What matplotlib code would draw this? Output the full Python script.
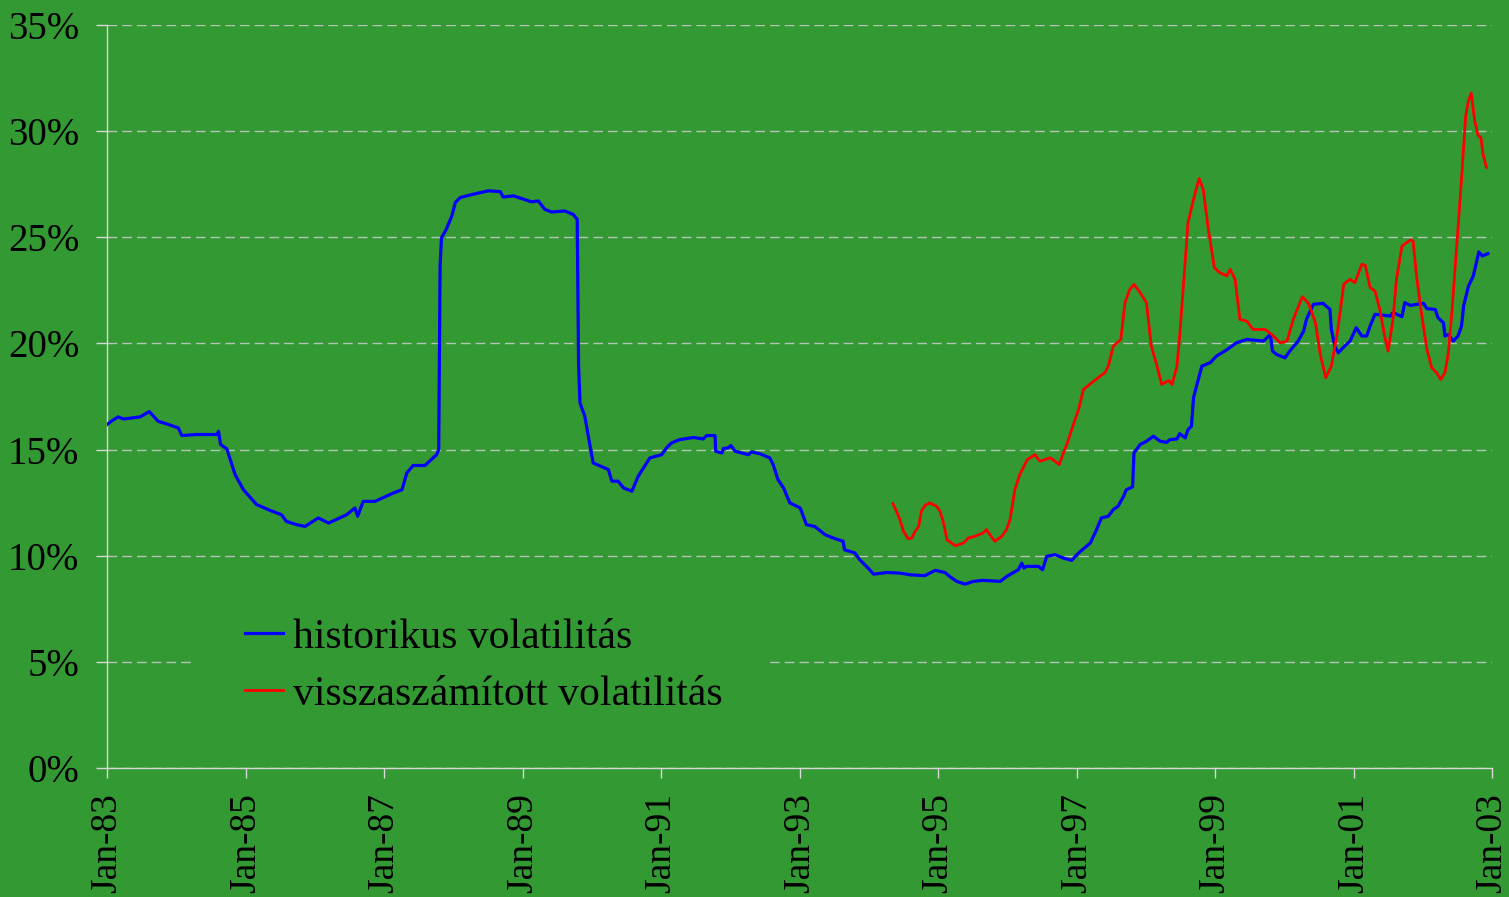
import matplotlib
matplotlib.use("Agg")
import matplotlib.pyplot as plt
from matplotlib.patches import Rectangle
from matplotlib.ticker import FixedLocator, FuncFormatter

# historikus volatilitás (decimal year, %)
hist_t = [1983.00, 1983.06, 1983.16, 1983.24, 1983.48, 1983.61, 1983.74, 1983.86, 1984.03, 1984.08,
          1984.29, 1984.59, 1984.61, 1984.64, 1984.73, 1984.85, 1984.97, 1985.16, 1985.35, 1985.52,
          1985.59, 1985.74, 1985.86, 1986.05, 1986.20, 1986.46, 1986.58, 1986.62, 1986.70, 1986.87,
          1987.14, 1987.26, 1987.33, 1987.42, 1987.59, 1987.76, 1987.79, 1987.81, 1987.83, 1987.90,
          1987.98, 1988.03, 1988.10, 1988.29, 1988.51, 1988.68, 1988.72, 1988.87, 1989.13, 1989.23,
          1989.32, 1989.42, 1989.61, 1989.73, 1989.79, 1989.81, 1989.83, 1989.90, 1989.95, 1990.02,
          1990.24, 1990.29, 1990.38, 1990.46, 1990.58, 1990.67, 1990.84, 1991.01, 1991.08, 1991.15,
          1991.27, 1991.47, 1991.61, 1991.66, 1991.78, 1991.79, 1991.88, 1991.90, 1991.97, 1992.01,
          1992.07, 1992.26, 1992.31, 1992.43, 1992.57, 1992.62, 1992.69, 1992.77, 1992.86, 1993.01,
          1993.10, 1993.22, 1993.37, 1993.49, 1993.63, 1993.65, 1993.80, 1993.87, 1993.92, 1993.99,
          1994.07, 1994.26, 1994.45, 1994.60, 1994.81, 1994.96, 1995.10, 1995.17, 1995.27, 1995.39,
          1995.51, 1995.65, 1995.90, 1995.99, 1996.09, 1996.16, 1996.21, 1996.24, 1996.28, 1996.45,
          1996.51, 1996.57, 1996.69, 1996.81, 1996.93, 1997.03, 1997.20, 1997.29, 1997.36, 1997.46,
          1997.53, 1997.60, 1997.68, 1997.72, 1997.81, 1997.83, 1997.92, 1998.01, 1998.11, 1998.21,
          1998.30, 1998.35, 1998.45, 1998.49, 1998.57, 1998.61, 1998.66, 1998.69, 1998.74, 1998.81,
          1998.93, 1999.02, 1999.17, 1999.31, 1999.46, 1999.70, 1999.80, 1999.83, 1999.89, 2000.01,
          2000.08, 2000.20, 2000.28, 2000.32, 2000.42, 2000.56, 2000.66, 2000.68, 2000.73, 2000.78,
          2000.85, 2000.95, 2001.04, 2001.12, 2001.19, 2001.24, 2001.31, 2001.53, 2001.57, 2001.70,
          2001.74, 2001.82, 2002.01, 2002.06, 2002.18, 2002.22, 2002.30, 2002.32, 2002.37, 2002.44,
          2002.51, 2002.56, 2002.59, 2002.66, 2002.73, 2002.78, 2002.81, 2002.86, 2002.94]
hist_v = [16.18, 16.33, 16.54, 16.44, 16.54, 16.79, 16.33, 16.21, 16.02, 15.66,
          15.71, 15.71, 15.86, 15.24, 15.03, 13.82, 13.11, 12.41, 12.14, 11.93,
          11.62, 11.46, 11.38, 11.78, 11.54, 11.93, 12.25, 11.86, 12.56, 12.56,
          12.96, 13.11, 13.90, 14.25, 14.25, 14.76, 15.00, 23.65, 24.98, 25.38,
          26.01, 26.64, 26.87, 27.03, 27.19, 27.15, 26.90, 26.95, 26.67, 26.71,
          26.32, 26.19, 26.24, 26.08, 25.85, 18.93, 17.20, 16.57, 15.63, 14.37,
          14.06, 13.51, 13.51, 13.19, 13.04, 13.74, 14.61, 14.76, 15.08, 15.31,
          15.47, 15.57, 15.50, 15.66, 15.66, 14.92, 14.84, 15.05, 15.08, 15.19,
          14.92, 14.76, 14.89, 14.80, 14.61, 14.29, 13.58, 13.19, 12.49, 12.25,
          11.46, 11.38, 10.99, 10.83, 10.68, 10.28, 10.13, 9.81, 9.65, 9.42,
          9.13, 9.21, 9.18, 9.10, 9.06, 9.31, 9.21, 9.02, 8.79, 8.66,
          8.79, 8.84, 8.79, 9.02, 9.21, 9.34, 9.65, 9.42, 9.50, 9.50,
          9.34, 9.97, 10.05, 9.89, 9.78, 10.13, 10.60, 11.23, 11.78, 11.86,
          12.17, 12.33, 12.80, 13.11, 13.24, 14.84, 15.24, 15.39, 15.63, 15.39,
          15.34, 15.47, 15.50, 15.75, 15.55, 15.94, 16.10, 17.44, 18.07, 18.93,
          19.09, 19.40, 19.70, 20.03, 20.19, 20.11, 20.42, 19.64, 19.48, 19.32,
          19.64, 20.11, 20.58, 21.13, 21.84, 21.89, 21.60, 20.66, 19.87, 19.56,
          19.80, 20.11, 20.74, 20.35, 20.35, 20.82, 21.37, 21.29, 21.45, 21.26,
          21.92, 21.79, 21.89, 21.64, 21.60, 21.21, 20.97, 20.35, 20.42, 20.11,
          20.35, 20.82, 21.76, 22.70, 23.18, 23.88, 24.31, 24.12, 24.23]

# visszaszámított volatilitás (decimal year, %)
impl_t = [1994.35, 1994.40, 1994.45, 1994.50, 1994.57, 1994.62, 1994.67, 1994.72, 1994.76, 1994.81,
          1994.88, 1994.98, 1995.03, 1995.08, 1995.13, 1995.25, 1995.37, 1995.44, 1995.53, 1995.65,
          1995.70, 1995.75, 1995.82, 1995.92, 1995.99, 1996.04, 1996.11, 1996.18, 1996.23, 1996.29,
          1996.40, 1996.47, 1996.62, 1996.69, 1996.75, 1996.81, 1996.86, 1996.93, 1997.03, 1997.10,
          1997.19, 1997.29, 1997.41, 1997.46, 1997.53, 1997.64, 1997.70, 1997.77, 1997.83, 1997.92,
          1998.01, 1998.08, 1998.15, 1998.23, 1998.33, 1998.38, 1998.45, 1998.49, 1998.54, 1998.61,
          1998.69, 1998.77, 1998.83, 1998.90, 1998.95, 1998.99, 1999.07, 1999.17, 1999.22, 1999.29,
          1999.36, 1999.46, 1999.55, 1999.72, 1999.82, 1999.94, 2000.04, 2000.13, 2000.26, 2000.35,
          2000.45, 2000.52, 2000.60, 2000.68, 2000.77, 2000.86, 2000.95, 2001.02, 2001.12, 2001.17,
          2001.24, 2001.31, 2001.38, 2001.45, 2001.50, 2001.57, 2001.62, 2001.70, 2001.82, 2001.86,
          2001.91, 2001.98, 2002.06, 2002.13, 2002.20, 2002.26, 2002.32, 2002.37, 2002.42, 2002.49,
          2002.56, 2002.62, 2002.66, 2002.70, 2002.75, 2002.80, 2002.84, 2002.87, 2002.92]
impl_v = [12.45, 12.09, 11.70, 11.15, 10.80, 10.83, 11.15, 11.38, 12.09, 12.36,
          12.49, 12.33, 12.09, 11.54, 10.75, 10.47, 10.60, 10.84, 10.91, 11.07,
          11.23, 10.99, 10.68, 10.91, 11.23, 11.70, 13.11, 13.82, 14.14, 14.53,
          14.76, 14.45, 14.61, 14.45, 14.29, 14.84, 15.24, 15.94, 16.89, 17.83,
          18.07, 18.33, 18.62, 18.93, 19.87, 20.19, 21.92, 22.55, 22.78, 22.39,
          21.92, 19.87, 19.09, 18.07, 18.25, 18.07, 18.93, 20.35, 22.55, 25.69,
          26.79, 27.77, 27.26, 25.46, 24.43, 23.57, 23.33, 23.18, 23.49, 23.02,
          21.13, 21.05, 20.66, 20.66, 20.42, 20.03, 20.11, 21.13, 22.20, 21.89,
          20.98, 19.48, 18.38, 18.93, 20.58, 22.80, 23.02, 22.86, 23.73, 23.68,
          22.63, 22.47, 21.60, 20.35, 19.64, 21.13, 23.02, 24.59, 24.87, 24.83,
          23.18, 21.45, 19.72, 18.85, 18.62, 18.30, 18.62, 19.56, 21.45, 24.59,
          27.74, 30.72, 31.43, 31.79, 30.49, 29.78, 29.70, 28.92, 28.29]

tick_years = list(range(1983, 2004, 2))
tick_labels = ["Jan-83", "Jan-85", "Jan-87", "Jan-89", "Jan-91", "Jan-93",
               "Jan-95", "Jan-97", "Jan-99", "Jan-01", "Jan-03"]
y_ticks = [0, 5, 10, 15, 20, 25, 30, 35]

bg = "#339933"
axis_col = "#d8d8d8"
grid_col = "#b4c4b4"

plt.rcParams["font.family"] = ["Liberation Serif", "DejaVu Serif"]

W, H = 1509, 897
fig = plt.figure(figsize=(W / 100, H / 100), dpi=100, facecolor=bg)
ax = fig.add_axes([107 / W, 1 - 768 / H, (1492 - 107) / W, (768 - 25) / H])
ax.set_facecolor(bg)

ax.plot(hist_t, hist_v, color="#0000ff", lw=2.3, label="historikus volatilitás", zorder=3)
ax.plot(impl_t, impl_v, color="#ff0000", lw=2.0, label="visszaszámított volatilitás", zorder=3)

ax.set_xlim(1983, 2003)
ax.set_ylim(0, 35)
ax.xaxis.set_major_locator(FixedLocator(tick_years))
ax.set_xticklabels(tick_labels, rotation=90, fontsize=27)
ax.yaxis.set_major_locator(FixedLocator(y_ticks))
ax.yaxis.set_major_formatter(FuncFormatter(lambda v, p: f"{v:.0f}%"))
ax.tick_params(axis="y", labelsize=28, length=8, width=1, color=axis_col, pad=12)
ax.tick_params(axis="x", length=7, width=1, color=axis_col, pad=11)

for s in ["top", "right"]:
    ax.spines[s].set_visible(False)
for s in ["left", "bottom"]:
    ax.spines[s].set_color(axis_col)
    ax.spines[s].set_linewidth(1)

ax.yaxis.grid(True, color=grid_col, linestyle=(0, (7, 3.6)), linewidth=1)
ax.set_axisbelow(True)

# legend area masks the 5% gridline like the original
ax.add_patch(Rectangle(((192 - 107) / 1385, (768 - 725) / 743), (768 - 192) / 1385, 120 / 743,
                       transform=ax.transAxes, facecolor=bg, edgecolor="none", zorder=1))

leg = ax.legend(loc="center left", bbox_to_anchor=((245 - 107) / 1385, (768 - 666) / 743),
                fontsize=30, frameon=False, handlelength=0.91, handletextpad=0.24,
                labelspacing=0.45, borderpad=0, borderaxespad=0)
leg.set_zorder(5)

fig.savefig("out.png", dpi=100, facecolor=bg)
